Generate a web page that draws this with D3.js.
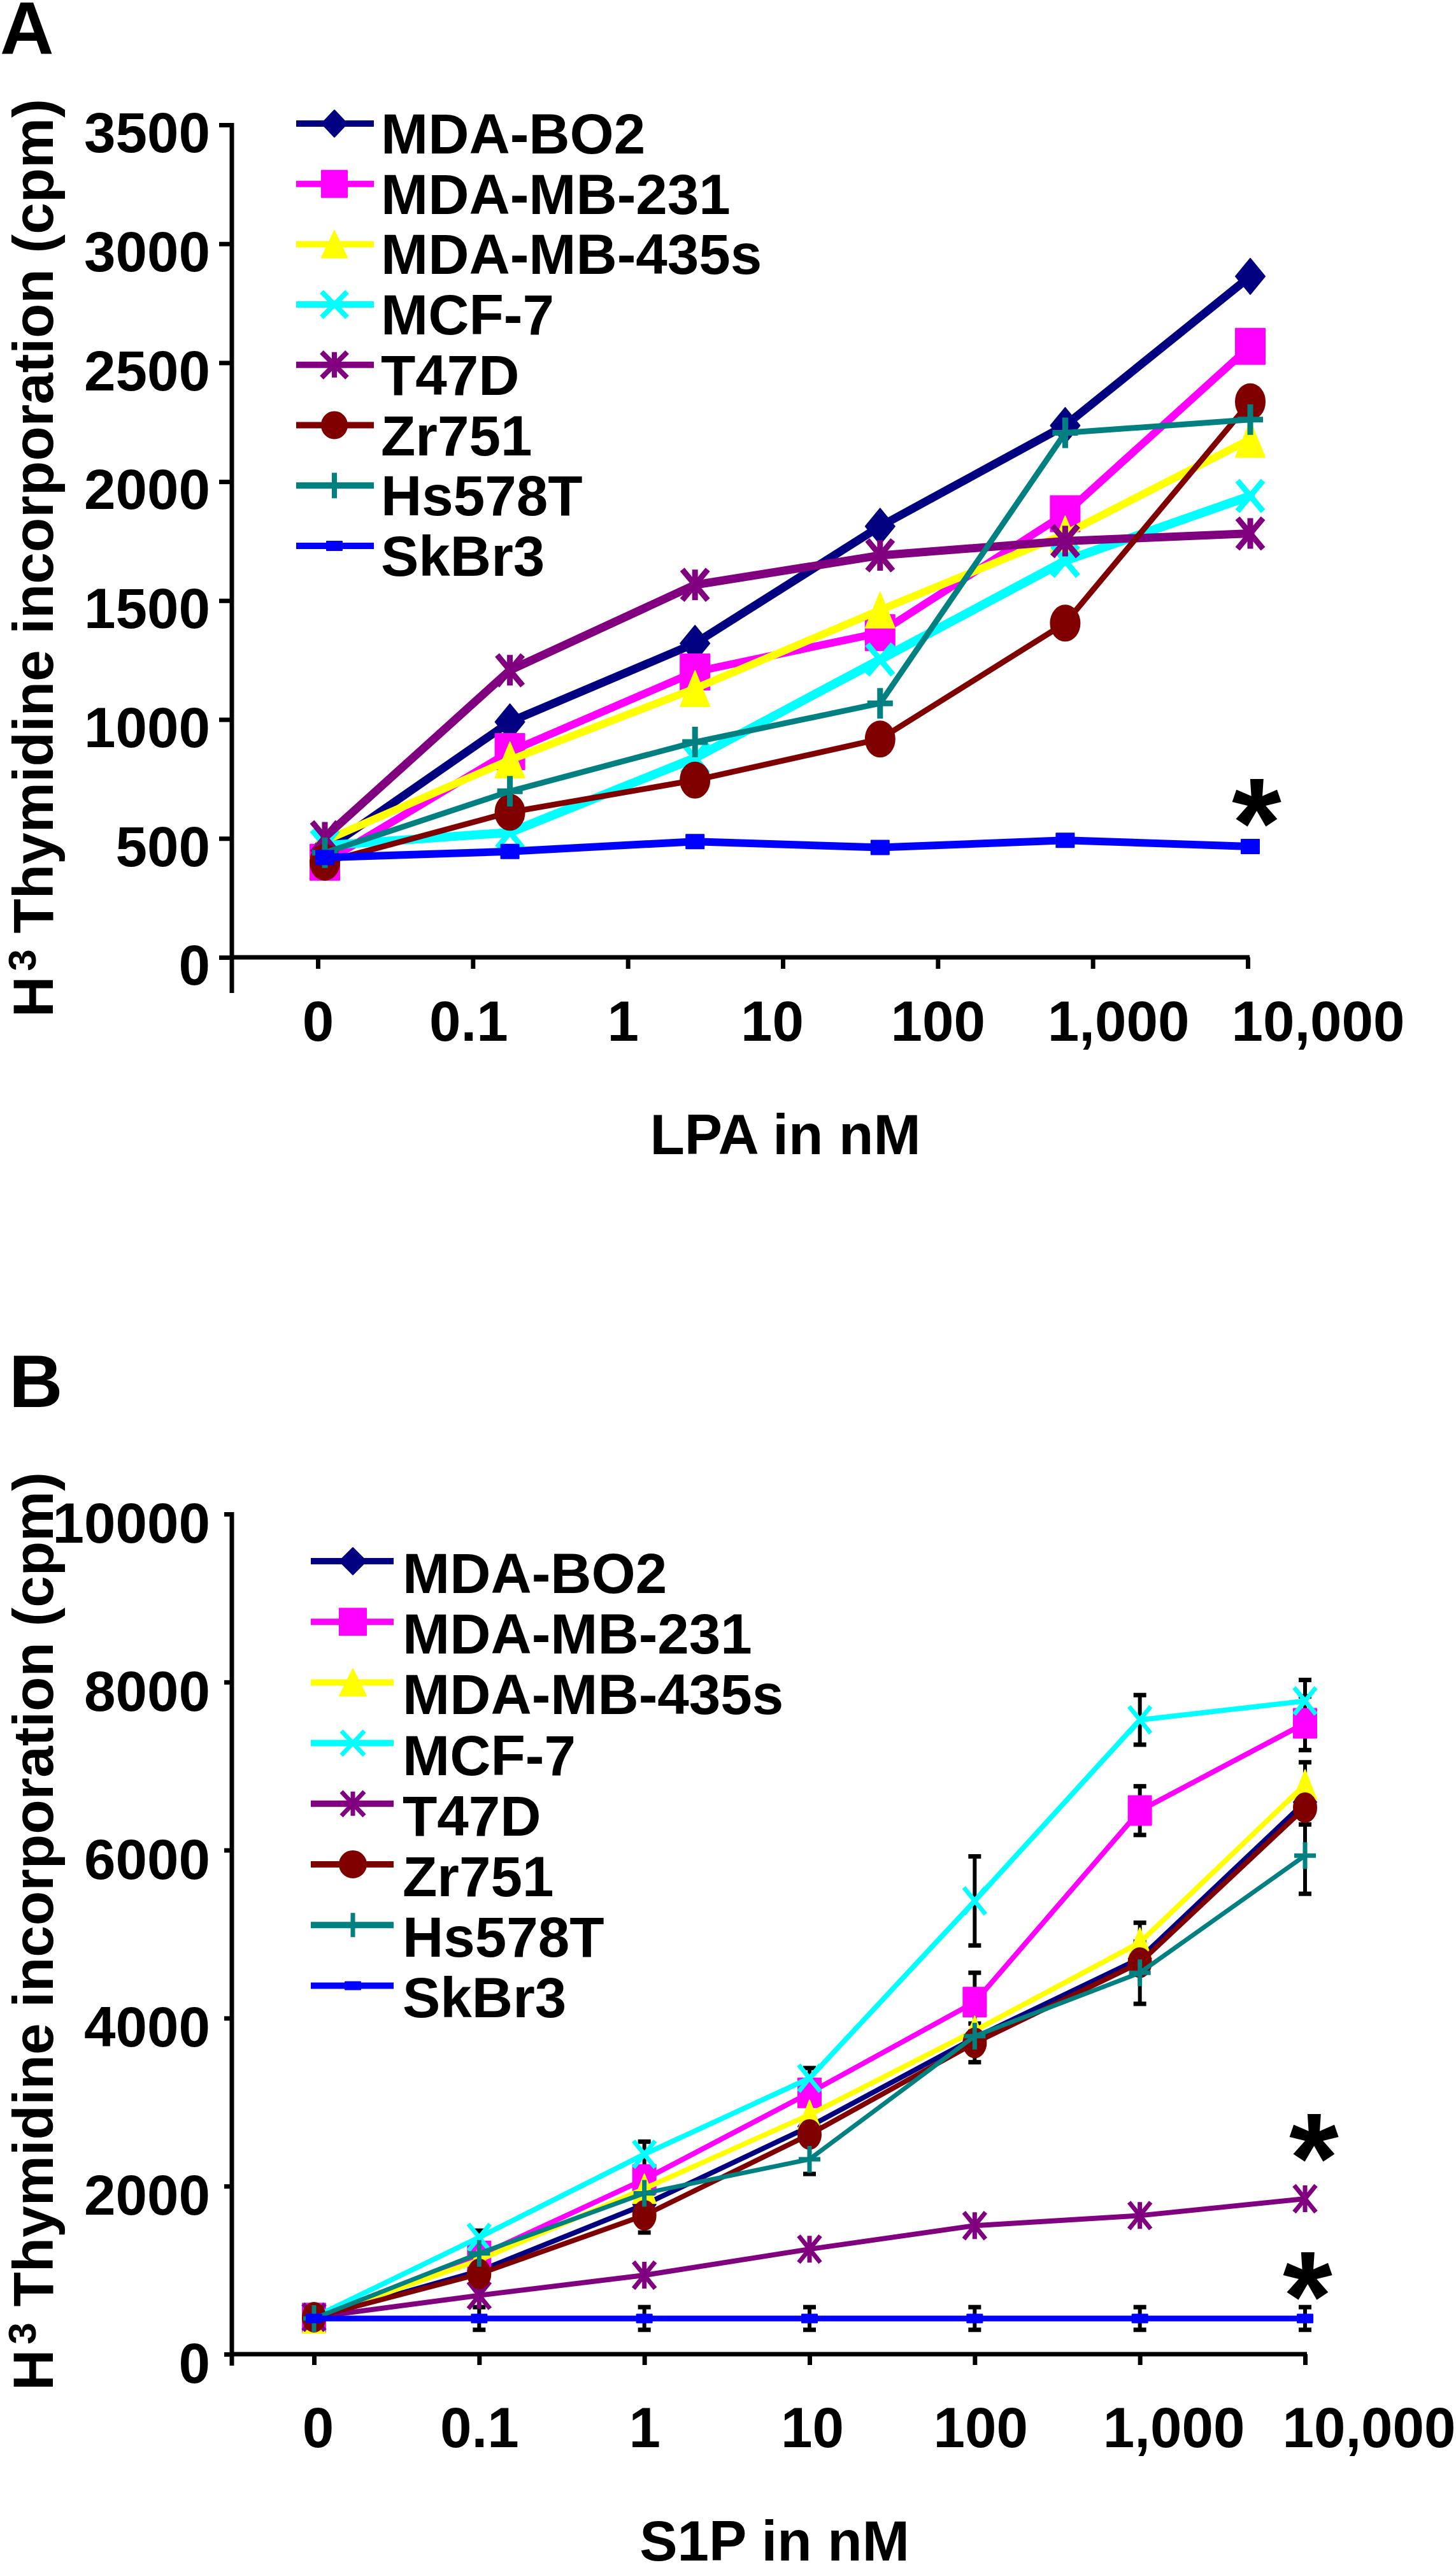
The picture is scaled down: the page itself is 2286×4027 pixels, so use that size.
<!DOCTYPE html>
<html><head><meta charset="utf-8">
<script src="https://cdn.jsdelivr.net/npm/d3@7"></script>
<style>
html,body{margin:0;padding:0;background:#fff;}
svg{display:block;}
text{font-family:"Liberation Sans",Arial,Helvetica,sans-serif;font-weight:bold;fill:#000;}
</style>
</head><body>
<svg id="chart" width="2286" height="4027"></svg>
<script>
// ================= DATA =================
const cellLines = ["MDA-BO2","MDA-MB-231","MDA-MB-435s","MCF-7","T47D","Zr751","Hs578T","SkBr3"];
const doseLabels = ["0","0.1","1","10","100","1,000","10,000"];

// Panel A (LPA): six measured points
const lpaPoints = [0,1,2,3,4,5];
const lpaYTicks = [0,500,1000,1500,2000,2500,3000,3500];
const lpaBO2    = [450, 990, 1320, 1812, 2236, 2863];
const lpaMB231  = [400, 865, 1200, 1365, 1865, 2569];
const lpaMB435s = [490, 830, 1130, 1460, 1780, 2178];
const lpaMCF7   = [470, 525, 838, 1252, 1667, 1940];
const lpaT47D   = [505, 1207, 1566, 1690, 1750, 1782];
const lpaZr751  = [400, 610, 745, 918, 1405, 2336];
const lpaHs578T = [440, 698, 905, 1068, 2205, 2261];
const lpaSkBr3  = [420, 445, 487, 462, 492, 466];

// Panel B (S1P): seven measured points
const s1pPoints = doseLabels;
const s1pYTicks = [0,2000,4000,6000,8000,10000];
const s1pBO2    = [430, 990, 1780, 2710, 3765, 4710, 6570];
const s1pMB231  = [430, 1170, 2080, 3110, 4190, 6470, 7510];
const s1pMB435s = [425, 1120, 1970, 2850, 3850, 4900, 6780];
const s1pMCF7   = [440, 1390, 2380, 3285, 5395, 7550, 7775];
const s1pT47D   = [440, 700, 940, 1250, 1530, 1650, 1850];
const s1pZr751  = [440, 955, 1653, 2615, 3705, 4660, 6505];
const s1pHs578T = [425, 1200, 1915, 2320, 3785, 4540, 5935];
const s1pSkBr3  = [425, 425, 425, 425, 425, 425, 425];
// error bars (± cpm), 0 = not visible
const s1pErrBO2    = [0,0,0,0,0,0,0];
const s1pErrMB231  = [0,0,0,0,350,290,320];
const s1pErrMB435s = [0,0,0,0,0,235,265];
const s1pErrMCF7   = [0,80,150,120,530,295,250];
const s1pErrT47D   = [0,0,0,0,0,0,0];
const s1pErrZr751  = [0,0,205,0,230,0,200];
const s1pErrHs578T = [0,0,0,175,0,370,455];
const s1pErrSkBr3  = [0,135,135,135,135,135,135];

// ================= STYLE =================
const colors = ["#000080","#FF00FF","#FFFF00","#00FFFF","#800080","#800000","#008080","#0000FF"];
const shapes = ["diamond","square","triangle","x","asterisk","circle","plus","dash"];

const lpaSeries = [lpaBO2,lpaMB231,lpaMB435s,lpaMCF7,lpaT47D,lpaZr751,lpaHs578T,lpaSkBr3];
const s1pSeries = [s1pBO2,s1pMB231,s1pMB435s,s1pMCF7,s1pT47D,s1pZr751,s1pHs578T,s1pSkBr3];
const s1pErrors = [s1pErrBO2,s1pErrMB231,s1pErrMB435s,s1pErrMCF7,s1pErrT47D,s1pErrZr751,s1pErrHs578T,s1pErrSkBr3];

const FS = 89;
const svg = d3.select("#chart");
svg.append("rect").attr("width",2286).attr("height",4027).attr("fill","#fff");

function markerPath(shape, w, h) {
  switch (shape) {
    case "diamond": return `M0,${-h}L${w},0L0,${h}L${-w},0Z`;
    case "square": return `M${-w},${-h}H${w}V${h}H${-w}Z`;
    case "triangle": return `M0,${-h}L${w},${h}H${-w}Z`;
    case "circle": return `M${-w},0A${w},${h} 0 1,0 ${w},0A${w},${h} 0 1,0 ${-w},0Z`;
    case "x": return `M${-w},${-h}L${w},${h}M${w},${-h}L${-w},${h}`;
    case "asterisk": return `M${-w},${-h}L${w},${h}M${w},${-h}L${-w},${h}M0,${-h}V${h}`;
    case "plus": return `M0,${-h}V${h}M${-w},0H${w}`;
    case "dash": return `M${-w},${-h}H${w}V${h}H${-w}Z`;
  }
}
const stroked = s => (s === "x" || s === "asterisk" || s === "plus");

function drawMarker(g, shape, color, cx, cy, sz) {
  let w, h;
  if (shape === "dash") { w = sz.dw; h = sz.dh; }
  else if (stroked(shape)) { w = sz.sw; h = sz.sh; }
  else { w = sz.fw; h = sz.fh; }
  const p = g.append("path")
    .attr("transform", `translate(${cx},${cy})`)
    .attr("d", markerPath(shape, w, h));
  if (stroked(shape)) {
    p.attr("fill","none").attr("stroke",color).attr("stroke-width",sz.msw).attr("stroke-linecap","butt");
  } else {
    p.attr("fill",color).attr("stroke",color).attr("stroke-width",2).attr("stroke-linejoin","round");
  }
}

function drawPanel(cfg) {
  const g = svg.append("g");
  const y = d3.scaleLinear().domain([0, cfg.yMax]).range([cfg.y0, cfg.yTop]);
  const xT = d3.scalePoint().domain(doseLabels).range(cfg.tickRange);
  const xD = d3.scalePoint().domain(cfg.points).range(cfg.dataRange);

  // y axis
  const ya = g.append("g").attr("transform", `translate(${cfg.axisX},0)`)
    .call(d3.axisLeft(y).tickValues(cfg.yTicks).tickSize(cfg.yTickLen)
      .tickPadding(cfg.yPad).tickSizeOuter(0).tickFormat(d3.format("d")));
  ya.select(".domain").remove();
  ya.attr("font-size", FS).attr("font-family", null);
  ya.selectAll(".tick line").attr("stroke","#000").attr("stroke-width",7);
  ya.selectAll(".tick text").attr("dy", cfg.yLabelDy).attr("fill","#000");
  g.append("line")
    .attr("x1", cfg.axisX).attr("x2", cfg.axisX)
    .attr("y1", y(cfg.yMax) - 3).attr("y2", y(0) + cfg.yAxisExtend)
    .attr("stroke","#000").attr("stroke-width",7);

  // x axis
  const xa = g.append("g").attr("transform", `translate(0,${y(0)})`)
    .call(d3.axisBottom(xT).tickSize(cfg.xTickLen).tickSizeOuter(0));
  xa.select(".domain").remove();
  xa.attr("font-size", FS).attr("font-family", null);
  xa.selectAll(".tick line").attr("stroke","#000").attr("stroke-width",7);
  xa.selectAll(".tick text").attr("y", cfg.xLabelBase).attr("dy", 0)
    .attr("x", (d,i) => cfg.labelNudge[i]).attr("fill","#000");
  g.append("line")
    .attr("x1", cfg.axisX - 3).attr("x2", xT(doseLabels[doseLabels.length-1]) + 3)
    .attr("y1", y(0)).attr("y2", y(0))
    .attr("stroke","#000").attr("stroke-width",7);

  // error bars
  if (cfg.errors) {
    cfg.errors.forEach((errs, si) => {
      errs.forEach((e, i) => {
        if (!e) return;
        const v = cfg.series[si][i];
        const cx = xD(cfg.points[i]);
        const eg = g.append("g");
        eg.append("line").attr("x1",cx).attr("x2",cx).attr("y1",y(v-e)).attr("y2",y(v+e))
          .attr("stroke","#000").attr("stroke-width",6);
        [v-e, v+e].forEach(t => eg.append("line")
          .attr("x1",cx-10).attr("x2",cx+10).attr("y1",y(t)).attr("y2",y(t))
          .attr("stroke","#000").attr("stroke-width",7));
      });
    });
  }

  // series
  const line = d3.line().x((d,i) => xD(cfg.points[i])).y(d => y(d));
  cfg.series.forEach((vals, si) => {
    const sg = g.append("g");
    sg.append("path").attr("d", line(vals)).attr("fill","none")
      .attr("stroke", colors[si]).attr("stroke-width", cfg.lineW[si])
      .attr("stroke-linejoin","round").attr("stroke-linecap","round");
    vals.forEach((v, i) => drawMarker(sg, shapes[si], colors[si], xD(cfg.points[i]), y(v), cfg.msize));
  });

  // legend
  const L = cfg.legend;
  cellLines.forEach((name, si) => {
    const ly = L.y0 + si * L.step;
    const lg = g.append("g");
    lg.append("line").attr("x1", L.x0).attr("x2", L.x1).attr("y1", ly).attr("y2", ly)
      .attr("stroke", colors[si]).attr("stroke-width", 10);
    drawMarker(lg, shapes[si], colors[si], L.xm, ly, L.msize);
    lg.append("text").attr("x", L.xt).attr("y", ly + L.base).attr("font-size", FS).text(name);
  });

  // axis titles
  g.append("text").attr("x", cfg.xTitle[0]).attr("y", cfg.xTitle[1])
    .attr("text-anchor","middle").attr("font-size", FS).text(cfg.xTitleText);
  const yt = g.append("text")
    .attr("transform", `translate(${cfg.yTitle[0]},${cfg.yTitle[1]}) rotate(-90)`)
    .attr("font-size", FS);
  yt.append("tspan").text("H");
  yt.append("tspan").attr("font-size", 62).attr("dy", -27).attr("dx", 8).text("3");
  yt.append("tspan").attr("dy", 27).text(" Thymidine incorporation (cpm)");

  // panel letter
  g.append("text").attr("x", cfg.letterPos[0]).attr("y", cfg.letterPos[1])
    .attr("font-size", 117).text(cfg.letter);

  // significance stars, anchored to data points
  cfg.stars.forEach(st => {
    const si = cellLines.indexOf(st.series);
    const cx = xD(cfg.points[st.index]) + st.dx;
    const cy = y(cfg.series[si][st.index]) + st.dy;
    g.append("text").attr("x", cx).attr("y", cy + 0.56 * 200)
      .attr("text-anchor","middle").attr("font-size", 200).text("*");
  });
}

drawPanel({
  letter: "A", letterPos: [0, 85],
  points: lpaPoints, series: lpaSeries, errors: null,
  yMax: 3500, y0: 1503, yTop: 196, yTicks: lpaYTicks,
  axisX: 364, yAxisExtend: 56, yTickLen: 20, yPad: 14, yLabelDy: "0.48em",
  tickRange: [499, 1959], dataRange: [510, 1963],
  xTickLen: 18, xLabelBase: 131, labelNudge: [0,-7,-8,-17,0,40,110],
  lineW: [13,12,12,14,13,9,9,12],
  msize: {fw:23, fh:28, sw:20, sh:24, dw:14, dh:11, msw:9},
  legend: {x0:465, x1:587, xm:525, xt:598, y0:194, step:94.7, base:47,
           msize:{fw:20, fh:21, sw:20, sh:20, dw:12, dh:7, msw:8}},
  xTitle: [1233, 1812], xTitleText: "LPA in nM",
  yTitle: [83, 1597],
  stars: [{series:"SkBr3", index:5, dx:10, dy:-80}]
});

drawPanel({
  letter: "B", letterPos: [14, 2209],
  points: s1pPoints, series: s1pSeries, errors: s1pErrors,
  yMax: 10000, y0: 3696, yTop: 2377, yTicks: s1pYTicks,
  axisX: 364, yAxisExtend: 18, yTickLen: 12, yPad: 22, yLabelDy: "0.5em",
  tickRange: [493, 2049], dataRange: [493, 2049],
  xTickLen: 17, xLabelBase: 146, labelNudge: [6,0,0,4,9,53,100],
  lineW: [8,8,8,8,8,8,7,9],
  msize: {fw:18, fh:23, sw:17, sh:21, dw:12, dh:6.5, msw:7},
  legend: {x0:488, x1:618, xm:554, xt:632, y0:2451, step:95.2, base:50,
           msize:{fw:21, fh:21, sw:18, sh:19, dw:12, dh:6, msw:7}},
  xTitle: [1216, 4020], xTitleText: "S1P in nM",
  yTitle: [83, 3753],
  stars: [{series:"T47D", index:6, dx:14, dy:-107}, {series:"SkBr3", index:6, dx:4, dy:-78}]
});
</script>
</body></html>
